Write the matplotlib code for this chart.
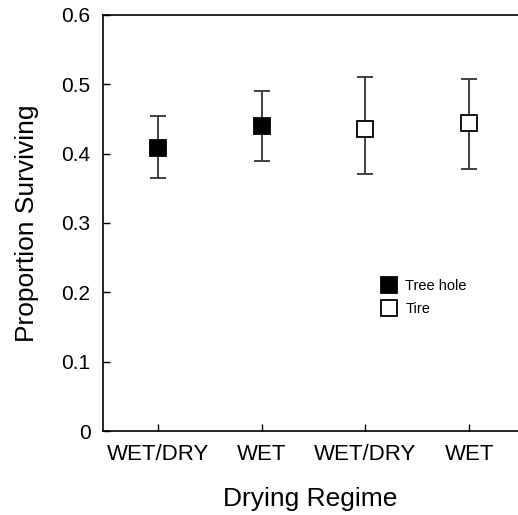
import matplotlib
matplotlib.use("Agg")
import matplotlib.pyplot as plt
from matplotlib.lines import Line2D

plt.rcParams['font.family'] = ['Liberation Sans', 'DejaVu Sans']

categories = ["WET/DRY", "WET", "WET/DRY", "WET"]
groups = ["Tree hole", "Tree hole", "Tire", "Tire"]
means = [0.408, 0.440, 0.435, 0.444]
upper = [0.455, 0.491, 0.510, 0.508]
lower = [0.365, 0.390, 0.371, 0.378]
yticks = [0, 0.1, 0.2, 0.3, 0.4, 0.5, 0.6]
ytick_labels = ["0", "0.1", "0.2", "0.3", "0.4", "0.5", "0.6"]

fig = plt.figure(figsize=(5.18, 5.15), dpi=100)
ax = fig.add_axes([0.1988, 0.1631, 0.8012, 0.8078])

xs = list(range(1, len(categories) + 1))
for x, m, u, l, g in zip(xs, means, upper, lower, groups):
    face = 'black' if g == "Tree hole" else 'white'
    ax.errorbar([x], [m], yerr=[[m - l], [u - m]], fmt='s', ms=11.5,
                mfc=face, mec='black', mew=1.3, ecolor='#333333',
                elinewidth=1.3, capsize=5.6, capthick=1.3, zorder=3)

ax.set_xlim(0.473, 4.47)
ax.set_ylim(0, 0.6)
ax.set_xticks(xs)
ax.set_xticklabels(categories, fontsize=16)
ax.set_yticks(yticks)
ax.set_yticklabels(ytick_labels, fontsize=15)
ax.tick_params(axis='y', direction='in', length=5, width=1, pad=9)
ax.tick_params(axis='x', direction='in', length=5, width=1, pad=9)
ax.spines['right'].set_visible(False)
for s in ['left', 'top', 'bottom']:
    ax.spines[s].set_linewidth(1.2)

ax.set_xlabel("Drying Regime", fontsize=19, labelpad=16)
ax.set_ylabel("Proportion Surviving", fontsize=19, labelpad=16)

handles = [Line2D([], [], ls='none', marker='s', ms=11, mfc='black', mec='black', mew=1.3),
           Line2D([], [], ls='none', marker='s', ms=11, mfc='white', mec='black', mew=1.3)]
ax.legend(handles, ["Tree hole", "Tire"], loc='center left',
          bbox_to_anchor=(0.655, 0.321), frameon=False, fontsize=10.5,
          handlelength=1.0, handletextpad=0.6, labelspacing=0.6, borderpad=0)

fig.savefig("out.png", dpi=100)
